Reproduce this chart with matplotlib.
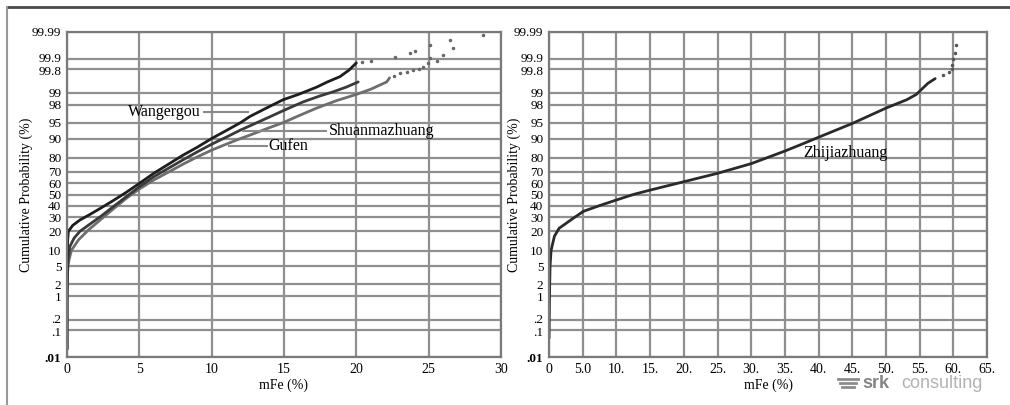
import math
import numpy as np
import matplotlib
matplotlib.use("Agg")
import matplotlib.pyplot as plt
from matplotlib.lines import Line2D
from matplotlib.transforms import ScaledTranslation

plt.rcParams['font.family'] = ['Liberation Serif', 'DejaVu Serif']
plt.rcParams['font.size'] = 10

# probability axis ticks (%)
prob_ticks = [0.01, 0.1, 0.2, 1, 2, 5, 10, 20, 30, 40, 50, 60, 70, 80, 90, 95, 98, 99, 99.8, 99.9, 99.99]
prob_labels = ['.01', '.1', '.2', '1', '2', '5', '10', '20', '30', '40', '50', '60', '70', '80', '90',
               '95', '98', '99', '99.8', '99.9', '99.99']

left_xticks = [0, 5, 10, 15, 20, 25, 30]
right_xticks = [0, 5, 10, 15, 20, 25, 30, 35, 40, 45, 50, 55, 60, 65]
right_xlabels = ['0', '5.0', '10.', '15.', '20.', '25.', '30.', '35.', '40.', '45.', '50.', '55.', '60.', '65.']

# Wangergou
wang_x = [0, 0, 0.02, 0.05, 0.1, 0.4, 0.9, 1.6, 2.3, 3.2, 4.1, 5.0, 6.0, 7.0, 8.0, 9.0, 10.0, 11.0,
          12.0, 12.65, 14.0, 14.95, 16.0, 17.26, 18.0, 18.87, 19.5, 20.0]
wang_p = [0.02, 2, 8, 15, 20, 24, 28, 32.5, 37.5, 44.5, 52, 60, 68.6, 75.5, 81.5, 86, 90, 92.8,
          95, 96.3, 97.8, 98.5, 98.9, 99.3, 99.5, 99.65, 99.78, 99.87]
wang_tail_x = [20.4, 21.05, 22.7, 23.7, 24.05, 25.1, 26.5, 28.75]
wang_tail_p = [99.88, 99.89, 99.92, 99.94, 99.95, 99.97, 99.98, 99.987]

# Shuanmazhuang
shuan_x = [0, 0, 0.05, 0.1, 0.2, 0.5, 0.9, 1.6, 2.3, 3.2, 4.1, 5.0, 6.0, 7.0, 8.0, 9.0, 10.0, 11.0,
           12.0, 12.65, 14.0, 15.0, 16.33, 17.5, 18.4, 19.3, 20.13]
shuan_p = [0.02, 1, 5, 8, 11.7, 16, 20, 25, 30.5, 39, 48, 57, 65.8, 72.5, 78.5, 83.5, 87.5, 90.5,
           93, 94.2, 96.2, 97.3, 98.3, 98.8, 99.06, 99.3, 99.5]

# Gufen
gufen_x = [0, 0, 0.05, 0.1, 0.3, 0.8, 1.5, 2.3, 3.2, 4.1, 5.0, 6.0, 7.0, 8.0, 9.0, 10.0, 11.0, 12.0,
           12.65, 14.0, 14.95, 16.0, 17.26, 18.6, 20.0, 21.0, 22.1, 22.3]
gufen_p = [0.02, 1, 4, 6, 10, 15, 21, 28, 37, 46.5, 55, 63, 69.5, 75.5, 80.5, 84.5, 87.5, 90,
           91.3, 93.7, 95.0, 96.4, 97.6, 98.4, 98.9, 99.2, 99.5, 99.62]
gufen_tail_x = [22.6, 23.0, 23.5, 23.9, 24.3, 24.6, 24.95, 25.1, 25.6, 26.0, 26.7]
gufen_tail_p = [99.66, 99.72, 99.74, 99.78, 99.8, 99.83, 99.87, 99.91, 99.89, 99.93, 99.96]

# Zhijiazhuang
zhi_x = [0, 0.05, 0.1, 0.15, 0.3, 0.8, 1.5, 2.4, 3.5, 5.1, 7.5, 10.0, 12.5, 15.0, 20.0, 25.0, 30.0,
         35.0, 37.5, 40.0, 45.0, 50.0, 53.1, 54.5, 55.3, 56.2, 57.3]
zhi_p = [0.05, 0.5, 2, 5, 10, 17, 22, 25, 29, 35, 40, 45, 50, 54, 61.5, 68.6, 76,
         84, 87.5, 90.5, 94.8, 97.6, 98.5, 98.9, 99.2, 99.45, 99.6]
zhi_tail_x = [58.5, 59.3, 59.8, 59.8, 60.0, 60.2, 60.4]
zhi_tail_p = [99.69, 99.75, 99.79, 99.85, 99.9, 99.94, 99.97]

# normal probability scale (Acklam's inverse normal approximation)
A = [-3.969683028665376e+01, 2.209460984245205e+02, -2.759285104469687e+02,
     1.383577518672690e+02, -3.066479806614716e+01, 2.506628277459239e+00]
B = [-5.447609879822406e+01, 1.615858368580409e+02, -1.556989798598866e+02,
     6.680131188771972e+01, -1.328068155288572e+01]
C = [-7.784894002430293e-03, -3.223964580411365e-01, -2.400758277161838e+00,
     -2.549671348893635e+00, 4.374664141464968e+00, 2.938163982698783e+00]
D = [7.784695709041462e-03, 3.224671290700398e-01, 2.445134137142996e+00, 3.754408661907416e+00]
PLOW = 0.02425


def prob_to_z(p):
    arr = np.asarray(p, dtype=float)
    q = np.clip(np.atleast_1d(arr) / 100.0, 1e-9, 1 - 1e-9)
    z = np.empty_like(q)
    lo = q < PLOW
    hi = q > 1 - PLOW
    mid = ~(lo | hi)
    r = np.sqrt(-2 * np.log(q[lo]))
    z[lo] = (((((C[0]*r+C[1])*r+C[2])*r+C[3])*r+C[4])*r+C[5]) / ((((D[0]*r+D[1])*r+D[2])*r+D[3])*r+1)
    r = np.sqrt(-2 * np.log(1 - q[hi]))
    z[hi] = -(((((C[0]*r+C[1])*r+C[2])*r+C[3])*r+C[4])*r+C[5]) / ((((D[0]*r+D[1])*r+D[2])*r+D[3])*r+1)
    s = q[mid] - 0.5
    r = s * s
    z[mid] = (((((A[0]*r+A[1])*r+A[2])*r+A[3])*r+A[4])*r+A[5])*s / (((((B[0]*r+B[1])*r+B[2])*r+B[3])*r+B[4])*r+1)
    return z.reshape(arr.shape)


_erf = np.vectorize(math.erf, otypes=[float])


def z_to_prob(z):
    return 50.0 * (1.0 + _erf(np.asarray(z, dtype=float) / math.sqrt(2)))


fig = plt.figure(figsize=(10.1, 4.05), dpi=100)
ax1 = fig.add_axes([0.0663, 0.1185, 0.4297, 0.8025])
ax2 = fig.add_axes([0.5436, 0.1185, 0.4337, 0.8025])

# small vertical nudges (points) for the tightly packed tick labels
nudge = {'99.9': 1.6, '99.8': -1.6, '.2': 1.6, '.1': -1.6}

grid_c = '#8f8f8f'
for ax in (ax1, ax2):
    ax.set_yscale('function', functions=(prob_to_z, z_to_prob))
    ax.set_ylim(0.01, 99.99)
    ax.set_yticks(prob_ticks, prob_labels)
    ax.yaxis.set_minor_locator(matplotlib.ticker.NullLocator())
    ax.grid(True, color=grid_c, lw=1.6)
    ax.set_axisbelow(True)
    ax.tick_params(length=0, pad=4, labelsize=10)
    ax.tick_params(axis='y', labelsize=9.5)
    for sp in ax.spines.values():
        sp.set_color('#7a7a7a')
        sp.set_linewidth(1.6)
    ax.set_ylabel('Cumulative Probability (%)', fontsize=10)
    ax.set_xlabel('mFe (%)', fontsize=10, labelpad=2)
    for lab in ax.get_yticklabels():
        if lab.get_text() == '.01':
            lab.set_fontweight('bold')
        if lab.get_text() in nudge:
            dy = nudge[lab.get_text()] / 72
            lab.set_transform(lab.get_transform() + ScaledTranslation(0, dy, fig.dpi_scale_trans))

ax1.yaxis.set_label_coords(-0.078, 0.5)
ax2.yaxis.set_label_coords(-0.064, 0.5)

ax1.set_xlim(0, 30)
ax1.set_xticks(left_xticks)
ax2.set_xlim(0, 65)
ax2.set_xticks(right_xticks, right_xlabels)

# left panel curves
ax1.plot(gufen_x, gufen_p, color='#6e6e6e', lw=2.0, solid_capstyle='round')
ax1.plot(shuan_x, shuan_p, color='#3a3a3a', lw=2.0, solid_capstyle='round')
ax1.plot(wang_x, wang_p, color='#1e1e1e', lw=2.0, solid_capstyle='round')
ax1.plot(wang_tail_x, wang_tail_p, '.', color='#666666', ms=3)
ax1.plot(gufen_tail_x, gufen_tail_p, '.', color='#666666', ms=3)

# labels with leader lines
lead_c = '#8a8a8a'
ax1.plot([9.5, 12.5], [97.05, 97.05], color=lead_c, lw=1.5)
ax1.text(4.2, 97.05, 'Wangergou', fontsize=11.5, va='center', ha='left')
ax1.plot([12.2, 17.9], [92.7, 92.7], color=lead_c, lw=1.5)
ax1.text(18.1, 92.7, 'Shuanmazhuang', fontsize=11.5, va='center', ha='left')
ax1.plot([11.2, 13.8], [86.6, 86.6], color=lead_c, lw=1.5)
ax1.text(13.95, 86.6, 'Gufen', fontsize=11.5, va='center', ha='left')

# right panel curve
ax2.plot(zhi_x, zhi_p, color='#2a2a2a', lw=2.0, solid_capstyle='round')
ax2.plot(zhi_tail_x, zhi_tail_p, '.', color='#555555', ms=3)
ax2.text(37.7, 82.9, 'Zhijiazhuang', fontsize=11.5, va='center', ha='left')

# page frame
fig.add_artist(Line2D([7/1010, 1], [1 - 7/405, 1 - 7/405], color='#4a4a4a', lw=2))
fig.add_artist(Line2D([7/1010, 7/1010], [0, 1 - 7/405], color='#9a9a9a', lw=1.5))

# logo
for i, dy in enumerate([0, 4, 8]):
    y = 1 - (379 + dy) / 405
    fig.add_artist(Line2D([(838 + 2 * i) / 1010, (858 - 2 * i) / 1010], [y, y], color='#8c8c8c', lw=2))
fig.text(862/1010, 1 - 384/405, 'srk', family='Liberation Sans', fontweight='bold',
         fontsize=13, color='#858585', va='center', ha='left')
fig.text(901/1010, 1 - 384/405, 'consulting', family='Liberation Sans',
         fontsize=13, color='#b3b3b3', va='center', ha='left')

fig.savefig('out.png', dpi=100)
